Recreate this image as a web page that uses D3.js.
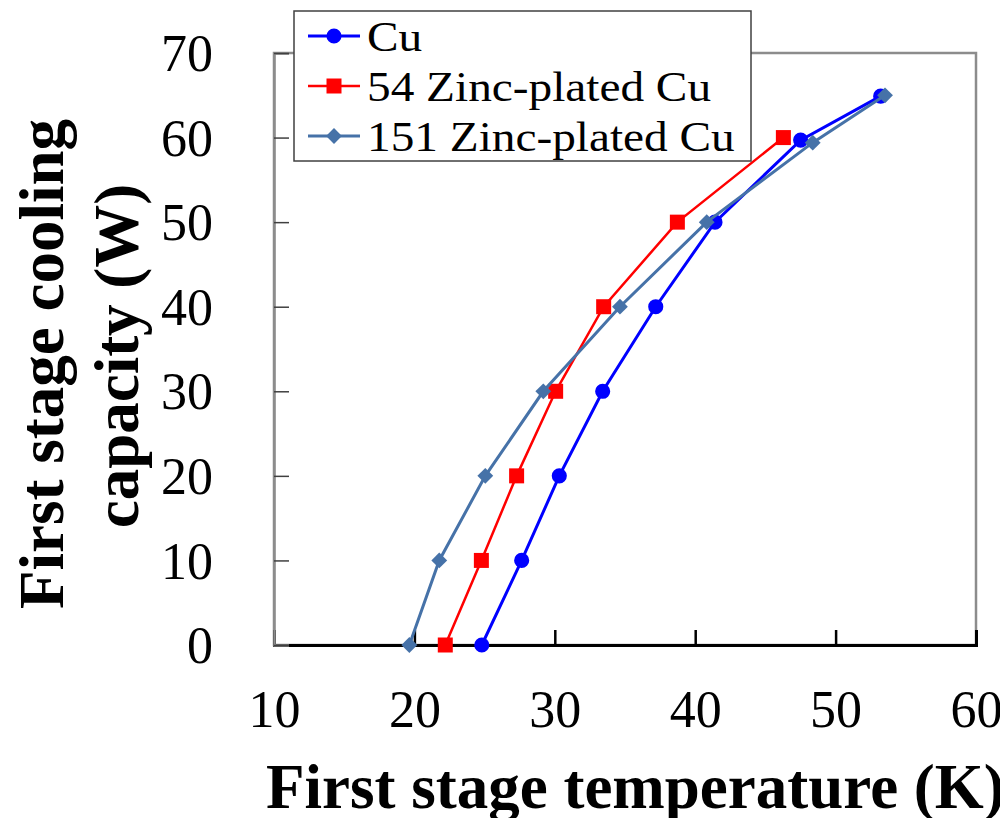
<!DOCTYPE html>
<html>
<head>
<meta charset="utf-8">
<script src="https://cdn.jsdelivr.net/npm/d3@7"></script>
<style>
  html, body { margin: 0; padding: 0; background: #fff; }
  svg { display: block; }
  text { font-family: "Liberation Serif", "Times New Roman", serif; fill: #000; }
</style>
</head>
<body>
<svg id="chart" width="1000" height="818"></svg>
<script>
// ---- Data ----
const tempCu     = [24.8, 27.64, 30.32, 33.41, 37.19, 41.41, 47.51, 53.21];
const capCu      = [0, 10, 20, 30, 40, 50, 59.7, 64.9];
const tempZn54   = [22.2, 24.77, 27.28, 30.06, 33.48, 38.73, 46.28];
const capZn54    = [0, 10, 20, 30, 40, 50, 60];
const tempZn151  = [19.64, 21.77, 25.05, 29.18, 34.64, 40.82, 48.37, 53.52];
const capZn151   = [0, 10, 20, 30, 40, 50, 59.4, 65];
const seriesNames = ["Cu", "54 Zinc-plated Cu", "151 Zinc-plated Cu"];
const xTicks = [10, 20, 30, 40, 50, 60];
const yTicks = [0, 10, 20, 30, 40, 50, 60, 70];
const xTitle = "First stage temperature (K)";
const yTitleLines = ["First stage cooling", "capacity (W)"];

const series = [
  { name: seriesNames[0], xs: tempCu,    ys: capCu,    color: "#0000ff", shape: d3.symbolCircle, size: 180, rot: 0,  width: 3 },
  { name: seriesNames[1], xs: tempZn54,  ys: capZn54,  color: "#ff0000", shape: d3.symbolSquare, size: 225, rot: 0,  width: 2.5 },
  { name: seriesNames[2], xs: tempZn151, ys: capZn151, color: "#4672a8", shape: d3.symbolSquare, size: 125, rot: 45, width: 3 }
];

const svg = d3.select("#chart");
const x = d3.scaleLinear().domain([10, 60]).range([274, 976]);
const y = d3.scaleLinear().domain([0, 70]).range([645, 53]);

// Plot frame (gray)
svg.append("rect")
  .attr("x", x(10)).attr("y", y(70))
  .attr("width", x(60) - x(10)).attr("height", y(0) - y(70))
  .attr("fill", "none").attr("stroke", "#8c8c8c").attr("stroke-width", 2.5);

// X axis
const gx = svg.append("g").attr("transform", `translate(0,${y(0)})`)
  .call(d3.axisBottom(x).tickValues(xTicks).tickSize(-15).tickPadding(45).tickFormat(d3.format("d")));
gx.select(".domain").attr("stroke", "#000").attr("stroke-width", 3);
gx.selectAll(".tick line").attr("stroke", "#000").attr("stroke-width", 2.5);
gx.selectAll(".tick text").attr("font-size", 52).attr("font-family", "Liberation Serif");

// Y axis
const gy = svg.append("g").attr("transform", `translate(${x(10)},0)`)
  .call(d3.axisLeft(y).tickValues(yTicks).tickSize(-15).tickPadding(61).tickFormat(d3.format("d")));
gy.select(".domain").attr("stroke", "#8c8c8c").attr("stroke-width", 2.5);
gy.selectAll(".tick line").attr("stroke", "#404040").attr("stroke-width", 1.5);
gy.selectAll(".tick text").attr("font-size", 52).attr("font-family", "Liberation Serif").attr("dy", "0.34em");

// Series
series.forEach(s => {
  const pts = s.xs.map((v, i) => [v, s.ys[i]]);
  svg.append("path")
    .datum(pts)
    .attr("fill", "none").attr("stroke", s.color).attr("stroke-width", s.width)
    .attr("d", d3.line().x(d => x(d[0])).y(d => y(d[1])));
  svg.append("g").selectAll("path").data(pts).join("path")
    .attr("transform", d => `translate(${x(d[0])},${y(d[1])}) rotate(${s.rot})`)
    .attr("d", d3.symbol().type(s.shape).size(s.size))
    .attr("fill", s.color);
});

// Axis titles
svg.append("text")
  .attr("x", 266).attr("y", 808)
  .attr("font-size", 63).attr("font-weight", "bold")
  .text(xTitle);

const yt = svg.append("g");
yt.append("text")
  .attr("transform", "translate(63,364) rotate(-90)")
  .attr("text-anchor", "middle").attr("font-size", 63).attr("font-weight", "bold")
  .text(yTitleLines[0]);
yt.append("text")
  .attr("transform", "translate(138,356) rotate(-90)")
  .attr("text-anchor", "middle").attr("font-size", 63).attr("font-weight", "bold")
  .text(yTitleLines[1]);

// Legend
const lg = svg.append("g");
lg.append("rect").attr("x", 294).attr("y", 11).attr("width", 457).attr("height", 150)
  .attr("fill", "#fff").attr("stroke", "#404040").attr("stroke-width", 1.5);
series.forEach((s, i) => {
  const cy = 36 + i * 50;
  lg.append("line").attr("x1", 308).attr("x2", 360).attr("y1", cy).attr("y2", cy)
    .attr("stroke", s.color).attr("stroke-width", s.width);
  lg.append("path").attr("transform", `translate(334,${cy}) rotate(${s.rot})`)
    .attr("d", d3.symbol().type(s.shape).size(s.size)).attr("fill", s.color);
  lg.append("text")
    .attr("transform", `translate(367,${cy + 15}) scale(1.1,1)`)
    .attr("font-size", 43)
    .text(s.name);
});
</script>
</body>
</html>
